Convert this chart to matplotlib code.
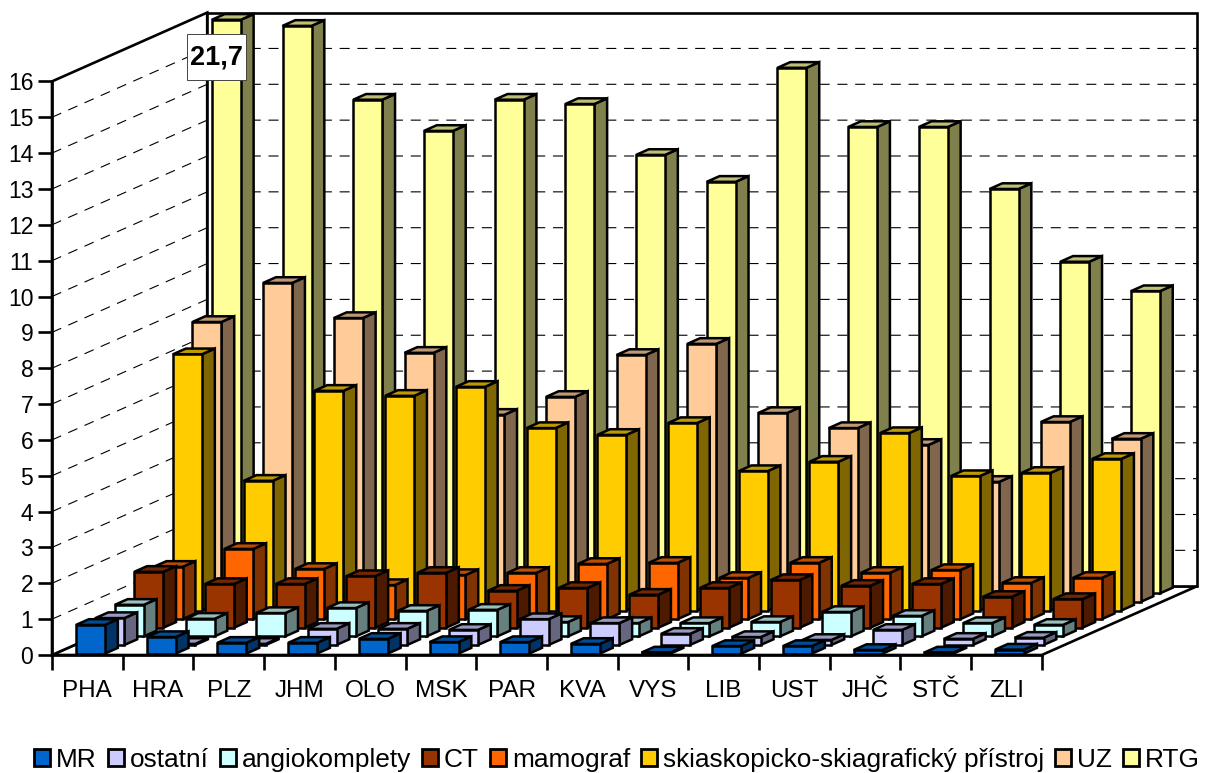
import matplotlib
matplotlib.use("Agg")
import matplotlib.pyplot as plt
from matplotlib.patches import Polygon, Patch, Rectangle

plt.rcParams['font.family'] = ['Liberation Sans', 'DejaVu Sans']

# data
regions = ['PHA', 'HRA', 'PLZ', 'JHM', 'OLO', 'MSK', 'PAR', 'KVA', 'VYS', 'LIB', 'UST', 'JHČ', 'STČ', 'ZLI']
series_names = ['MR', 'ostatní', 'angiokomplety', 'CT', 'mamograf',
                'skiaskopicko-skiagrafický přístroj', 'UZ', 'RTG']

mr = [0.80, 0.46, 0.30, 0.30, 0.41, 0.32, 0.32, 0.27, 0.03, 0.21, 0.21, 0.10, 0.03, 0.11]
ostatni = [0.75, 0.03, 0.03, 0.45, 0.45, 0.42, 0.72, 0.61, 0.31, 0.22, 0.14, 0.42, 0.17, 0.20]
angio = [0.88, 0.49, 0.65, 0.79, 0.71, 0.74, 0.40, 0.37, 0.37, 0.40, 0.68, 0.57, 0.37, 0.32]
ct = [1.56, 1.22, 1.22, 1.44, 1.53, 1.03, 1.11, 0.92, 1.11, 1.33, 1.17, 1.22, 0.86, 0.80]
mamograf = [1.46, 1.96, 1.40, 0.95, 1.23, 1.29, 1.54, 1.57, 1.15, 1.57, 1.29, 1.37, 1.01, 1.15]
skia = [7.15, 3.62, 6.13, 5.99, 6.24, 5.09, 4.90, 5.23, 3.89, 4.15, 4.95, 3.75, 3.84, 4.23]
uz = [7.81, 8.90, 7.92, 6.95, 5.22, 5.72, 6.89, 7.20, 5.27, 4.85, 4.38, 3.35, 5.02, 4.55]
rtg = [21.7, 15.83, 13.77, 12.90, 13.77, 13.65, 12.23, 11.48, 14.66, 13.01, 13.01, 11.28, 9.25, 8.43]

series = [mr, ostatni, angio, ct, mamograf, skia, uz, rtg]
colors = ['#0066CC', '#CCCCFF', '#CCFFFF', '#993300', '#FF6600', '#FFCC00', '#FFCC99', '#FFFF99']

y_max = 16

# size of one category / one value unit in pixels, origin of the floor
PX_X, PX_Y = 70.7, 35.85
X0, Y0 = 52, 655
W, H = 1208, 773

# oblique shift per series row, in data units
DX = 19.4 / PX_X
DY = 8.6 / PX_Y
GAP = 0.34
BAR_W = 0.41
BAR_D = 0.66
BASE = 0.04
n_rows = len(series)
n_cat = len(regions)

fig = plt.figure(figsize=(W / 100, H / 100), dpi=100)
ax = fig.add_axes([0, 0, 1, 1])
ax.set_xlim(-X0 / PX_X, (W - X0) / PX_X)
ax.set_ylim((Y0 - H) / PX_Y, Y0 / PX_Y)
ax.patch.set_visible(False)


def shade(col, f):
    rgb = matplotlib.colors.to_rgb(col)
    return tuple(c * f for c in rgb)


# floor and walls
back_x, back_y = n_rows * DX, n_rows * DY
edge = dict(edgecolor='black', linewidth=1.9, zorder=0.1, joinstyle='miter')
ax.add_patch(Polygon([(0, 0), (n_cat, 0), (n_cat + back_x, back_y), (back_x, back_y)], facecolor='white', **edge))
ax.add_patch(Polygon([(0, 0), (back_x, back_y), (back_x, back_y + y_max), (0, y_max)], facecolor='white', **edge))
ax.add_patch(Polygon([(back_x, back_y), (n_cat + back_x, back_y), (n_cat + back_x, back_y + y_max), (back_x, back_y + y_max)],
                     facecolor='white', **edge))

# dashed gridlines on both walls
for v in range(1, y_max):
    ax.plot([0, back_x, n_cat + back_x], [v, v + back_y, v + back_y], color='black', lw=0.8,
            dashes=(9, 7), zorder=0.2)

# bars, back row first
for r in range(n_rows - 1, -1, -1):
    for c in range(n_cat):
        v = min(series[r][c], y_max)
        x1 = c + GAP + r * DX
        x2 = x1 + BAR_W
        y1 = r * DY + BASE
        y2 = y1 + v
        sx = BAR_D * DX
        sy = BAR_D * DY
        style = dict(edgecolor='black', linewidth=1.8, joinstyle='miter', zorder=1)
        ax.add_patch(Polygon([(x2, y1), (x2 + sx, y1 + sy), (x2 + sx, y2 + sy), (x2, y2)],
                             facecolor=shade(colors[r], 0.5), **style))
        ax.add_patch(Polygon([(x1, y2), (x2, y2), (x2 + sx, y2 + sy), (x1 + sx, y2 + sy)],
                             facecolor=shade(colors[r], 0.75), **style))
        ax.add_patch(Polygon([(x1, y1), (x2, y1), (x2, y2), (x1, y2)],
                             facecolor=colors[r], **style))

# axes
for name in ['top', 'right']:
    ax.spines[name].set_visible(False)
ax.spines['left'].set_position(('data', 0))
ax.spines['bottom'].set_position(('data', 0))
ax.spines['left'].set_bounds(0, y_max)
ax.spines['bottom'].set_bounds(0, n_cat)
ax.spines['left'].set_linewidth(1.9)
ax.spines['bottom'].set_linewidth(1.9)

ax.set_yticks(range(0, y_max + 1))
ax.tick_params(axis='y', length=10, width=1.9, labelsize=16.5, pad=3.5)
ax.set_xticks(range(n_cat + 1))
ax.set_xticklabels([])
ax.set_xticks([c + 0.5 for c in range(n_cat)], minor=True)
ax.set_xticklabels(regions, minor=True)
ax.tick_params(axis='x', which='minor', length=0, labelsize=17.5, pad=18)
ax.tick_params(axis='x', which='major', length=11, width=1.9)

# value of the cut off bar
ax.add_patch(Rectangle((1.91, 16.04), 0.834, 1.28, facecolor='white', edgecolor='#444444', linewidth=0.7, zorder=5))
ax.text(2.327, 16.68, f'{rtg[0]:.1f}'.replace('.', ','), fontsize=19.5, fontweight='bold', ha='center', va='center',
        zorder=6)

handles = [Patch(facecolor=col, edgecolor='black', linewidth=2.0) for col in colors]
fig.legend(handles, series_names, loc='center', bbox_to_anchor=(617 / W, 1 - 760 / H), ncol=8, frameon=False,
           fontsize=18.9, handlelength=0.62, handleheight=0.62, handletextpad=0.22, columnspacing=0.415,
           borderpad=0, borderaxespad=0)

fig.savefig('out.png', dpi=100)
